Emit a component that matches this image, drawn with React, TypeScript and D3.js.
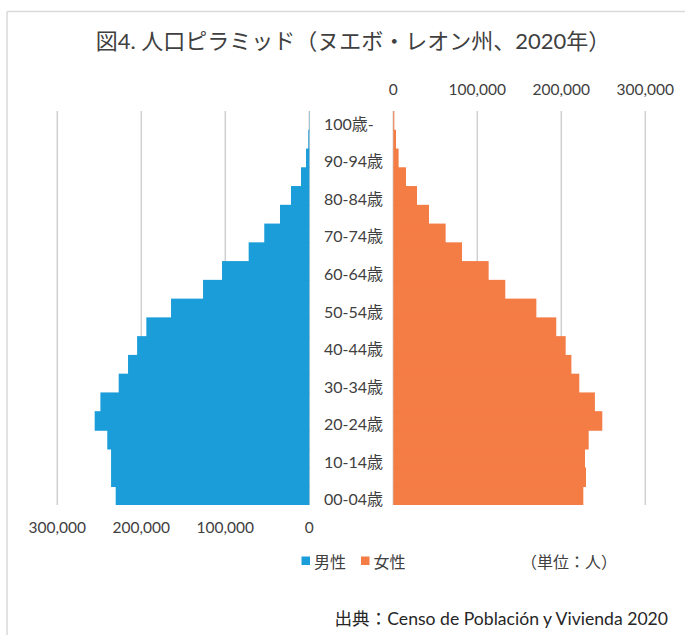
import React from "react";
import * as d3 from "d3";

// Age groups, youngest first
const ageGroups = [
  "00-04歳", "05-09歳", "10-14歳", "15-19歳", "20-24歳", "25-29歳", "30-34歳",
  "35-39歳", "40-44歳", "45-49歳", "50-54歳", "55-59歳", "60-64歳", "65-69歳",
  "70-74歳", "75-79歳", "80-84歳", "85-89歳", "90-94歳", "95-99歳", "100歳-",
];

// Population by age group (persons)
const male = [
  230500, 236000, 236000, 240500, 255500, 248700, 226900, 215800, 205000, 194000,
  164600, 126500, 103900, 72200, 53600, 34900, 21800, 9900, 3900, 1200, 300,
];
const female = [
  226200, 229400, 228200, 232600, 248800, 240000, 221400, 212000, 205200, 194000,
  170300, 133300, 113500, 81800, 62300, 42500, 28200, 15100, 6300, 3200, 1200,
];

const axisTicks = [0, 100000, 200000, 300000];
const legendItems = ["男性", "女性"];

const W = 685;
const H = 635;
const MALE_COLOR = "#1b9dd9";
const FEMALE_COLOR = "#f47c45";
const GRID = "#d0d0d0";
const TEXT = "#404040";
const FONT = "Lato, 'Noto Sans CJK JP', sans-serif";

export default function App() {
  const top = 111;
  const bottom = 505;
  const y = d3
    .scaleBand<string>()
    .domain([...ageGroups].reverse())
    .range([top, bottom])
    .padding(0);

  const xMale = d3.scaleLinear().domain([0, 300000]).range([309.3, 57.3]);
  const xFemale = d3.scaleLinear().domain([0, 300000]).range([393.3, 645.3]);
  const fmt = d3.format(",");

  const bw = y.bandwidth();
  // bars are drawn bottom-up; each one reaches slightly into the band below to hide seams
  const overlap = (i: number) => (i === 0 ? 0 : 0.8);

  return (
    <svg
      width={W}
      height={H}
      style={{ position: "absolute", left: 0, top: 0, background: "#fff" }}
      fontFamily={FONT}
    >
      <rect x={0} y={0} width={W} height={H} fill="#fff" />
      {/* outer frame */}
      <line x1={7} y1={11.5} x2={W} y2={11.5} stroke="#d9d9d9" strokeWidth={1.5} />
      <line x1={7} y1={11.5} x2={7} y2={H} stroke="#d9d9d9" strokeWidth={1.5} />

      <text x={353} y={40} textAnchor="middle" dominantBaseline="central" fontSize={22} fill={TEXT}>
        図4. 人口ピラミッド（ヌエボ・レオン州、2020年）
      </text>

      {/* gridlines */}
      {axisTicks.map((t) => (
        <line key={"gm" + t} x1={xMale(t)} x2={xMale(t)} y1={top} y2={bottom} stroke={GRID} strokeWidth={1.5} />
      ))}
      {axisTicks.map((t) => (
        <line key={"gf" + t} x1={xFemale(t)} x2={xFemale(t)} y1={top} y2={bottom} stroke={GRID} strokeWidth={1.5} />
      ))}

      {/* bars */}
      {ageGroups.map((g, i) => (
        <rect
          key={"m" + g}
          x={xMale(male[i])}
          y={y(g)}
          width={xMale(0) - xMale(male[i])}
          height={bw + overlap(i)}
          fill={MALE_COLOR}
        />
      ))}
      {ageGroups.map((g, i) => (
        <rect
          key={"f" + g}
          x={xFemale(0)}
          y={y(g)}
          width={xFemale(female[i]) - xFemale(0)}
          height={bw + overlap(i)}
          fill={FEMALE_COLOR}
        />
      ))}

      {/* age labels, every other group */}
      {ageGroups.map((g, i) =>
        i % 2 === 0 ? (
          <text
            key={"l" + g}
            x={324}
            y={(y(g) as number) + bw / 2 + 3}
            dominantBaseline="central"
            fontSize={16}
            fill={TEXT}
          >
            {g}
          </text>
        ) : null
      )}

      {/* value axes */}
      {axisTicks.map((t) => (
        <text key={"tm" + t} x={xMale(t)} y={527} textAnchor="middle" dominantBaseline="central" fontSize={15.5} fill={TEXT}>
          {fmt(t)}
        </text>
      ))}
      {axisTicks.map((t) => (
        <text key={"tf" + t} x={xFemale(t)} y={89} textAnchor="middle" dominantBaseline="central" fontSize={15.5} fill={TEXT}>
          {fmt(t)}
        </text>
      ))}

      {/* legend */}
      {legendItems.map((name, i) => {
        const lx = i === 0 ? 301.5 : 361;
        return (
          <g key={name}>
            <rect x={lx} y={556.5} width={8.5} height={8.5} fill={i === 0 ? MALE_COLOR : FEMALE_COLOR} />
            <text x={lx + 12.5} y={561} dominantBaseline="central" fontSize={16} fill={TEXT}>
              {name}
            </text>
          </g>
        );
      })}
      <text x={521} y={561} dominantBaseline="central" fontSize={16} fill={TEXT}>
        （単位：人）
      </text>

      <text x={668} y={618} textAnchor="end" dominantBaseline="central" fontSize={17.6} fill="#262626">
        出典：Censo de Población y Vivienda 2020
      </text>
    </svg>
  );
}
